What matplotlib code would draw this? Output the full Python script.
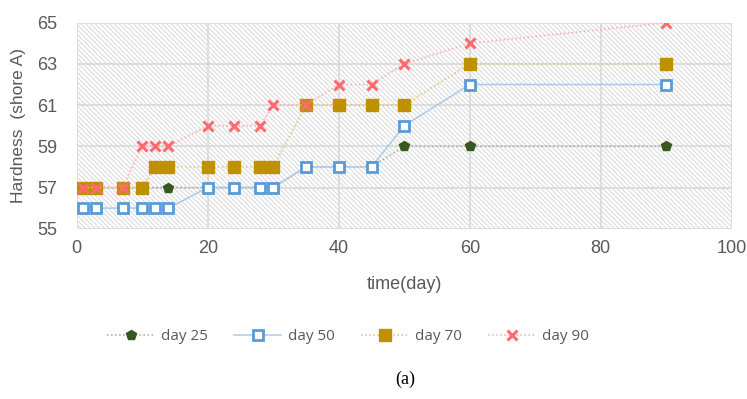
import matplotlib
matplotlib.use("Agg")
import matplotlib.pyplot as plt
from matplotlib.patches import Rectangle

# pomiary twardosci w czasie
t25 = [1, 3, 7, 10, 14, 20, 24, 28, 30, 35, 40, 45, 50, 60, 90]
h25 = [57, 57, 57, 57, 57, 57, 57, 57, 57, 58, 58, 58, 59, 59, 59]

t50 = [1, 3, 7, 10, 12, 14, 20, 24, 28, 30, 35, 40, 45, 50, 60, 90]
h50 = [56, 56, 56, 56, 56, 56, 57, 57, 57, 57, 58, 58, 58, 60, 62, 62]

t70 = [1, 3, 7, 10, 12, 14, 20, 24, 28, 30, 35, 40, 45, 50, 60, 90]
h70 = [57, 57, 57, 57, 58, 58, 58, 58, 58, 58, 61, 61, 61, 61, 63, 63]

t90 = [1, 3, 7, 10, 12, 14, 20, 24, 28, 30, 35, 40, 45, 50, 60, 90]
h90 = [57, 57, 57, 59, 59, 59, 60, 60, 60, 61, 61, 62, 62, 63, 64, 65]

xticks = [0, 20, 40, 60, 80, 100]
yticks = [55, 57, 59, 61, 63, 65]

grey = '#595959'
plt.rcParams['hatch.linewidth'] = 0.8
fig = plt.figure(figsize=(7.47, 3.99), dpi=100)
ax = fig.add_axes([0.1027, 0.4268, 0.877, 0.5163])

# tlo kreskowane
ax.add_patch(Rectangle((0, 0), 1, 1, transform=ax.transAxes, facecolor='white',
                       edgecolor='#dcdcdc', hatch='\\' * 7, lw=0, zorder=0))

ax.plot(t25, h25, ls=':', color='#a5a5a5', lw=1.1, marker='p', ms=7,
        mfc='#385723', mec='#385723', label='day 25', zorder=3)
ax.plot(t50, h50, ls='-', color='#a9cbea', lw=1.1, marker='s', ms=7.5,
        mfc='white', mec='#5b9bd5', mew=2.0, label='day 50', zorder=4)
ax.plot(t70, h70, ls=':', color='#e3c46a', lw=1.1, marker='s', ms=8,
        mfc='#bf9000', mec='#bf9000', label='day 70', zorder=5)
ax.plot(t90, h90, ls=':', color='#ffa9ab', lw=1.1, marker='x', ms=6.5,
        mfc='#ff6b6f', mec='#ff6b6f', mew=2.2, label='day 90', zorder=6)

ax.set_xlim(0, 100)
ax.set_ylim(55, 65)
ax.set_xticks(xticks)
ax.set_yticks(yticks)
ax.grid(True, color='#d9d9d9', lw=1.2, zorder=1)
ax.set_axisbelow(True)
for s in ax.spines.values():
    s.set_visible(False)
ax.tick_params(length=0, labelsize=13, labelcolor=grey)
ax.tick_params(axis='y', pad=14)
ax.tick_params(axis='x', pad=8)
for lab in ax.get_xticklabels() + ax.get_yticklabels():
    lab.set_family('Liberation Sans')

ax.set_xlabel('time(day)', fontsize=13, color=grey, family='Liberation Sans', labelpad=14)
ax.set_ylabel('Hardness  (shore A)', fontsize=12.5, color=grey, family='Liberation Sans', labelpad=8)

leg = fig.legend(loc='center', bbox_to_anchor=(348 / 747, 1 - 337 / 399), ncol=4, frameon=False,
                 handlelength=3.1, handletextpad=0.45, columnspacing=1.7,
                 prop={'family': 'Open Sans', 'size': 11})
for txt in leg.get_texts():
    txt.set_color(grey)

fig.text(405 / 747, 1 - 379 / 399, '(a)', ha='center', va='center',
         fontsize=13, family='Liberation Serif', color='black')

fig.savefig('out.png', dpi=100)
